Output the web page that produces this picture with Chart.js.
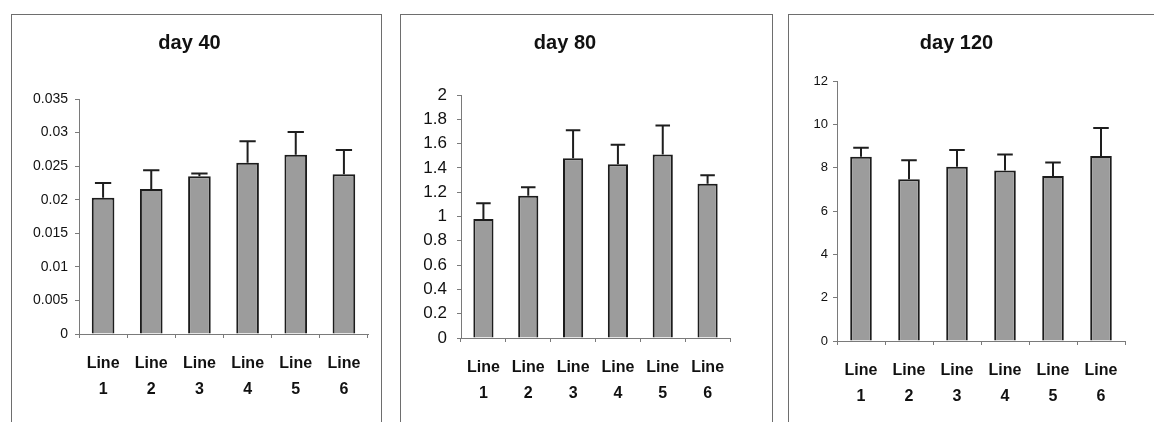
<!DOCTYPE html>
<html>
<head>
<meta charset="utf-8">
<title>Bar charts by line, days 40 / 80 / 120</title>
<script src="https://cdn.jsdelivr.net/npm/chart.js@4/dist/chart.umd.min.js"></script>
<style>
  html, body { margin: 0; padding: 0; background: #fff; overflow: hidden; }
  body { width: 1154px; height: 422px; position: relative; }
  .panel { position: absolute; top: 14px; height: 408px; }
  .panel canvas { position: absolute; left: 0; top: 0; }
  .frame { position: absolute; left: 0; top: 0; right: 0; bottom: -4px;
           border: 1.5px solid #6e6e6e; border-bottom: none; pointer-events: none; }
</style>
</head>
<body>
<div class="panel" id="p40" style="left:11px;width:371px"><canvas id="c40" width="371" height="408"></canvas><div class="frame"></div></div>
<div class="panel" id="p80" style="left:400px;width:373px"><canvas id="c80" width="373" height="408"></canvas><div class="frame"></div></div>
<div class="panel" id="p120" style="left:788px;width:370px"><canvas id="c120" width="370" height="408"></canvas><div class="frame"></div></div>
<script>
// categories shared by all three plots
const lines = [['Line', '1'], ['Line', '2'], ['Line', '3'], ['Line', '4'], ['Line', '5'], ['Line', '6']];

// day 40
const day40Means = [0.0203, 0.0216, 0.0235, 0.0255, 0.0267, 0.0238];
const day40Errors = [0.0022, 0.0028, 0.0004, 0.0032, 0.0034, 0.0036];
const day40Ticks = [0, 0.005, 0.01, 0.015, 0.02, 0.025, 0.03, 0.035];

// day 80
const day80Means = [0.98, 1.17, 1.48, 1.43, 1.51, 1.27];
const day80Errors = [0.13, 0.07, 0.23, 0.16, 0.24, 0.07];
const day80Ticks = [0, 0.2, 0.4, 0.6, 0.8, 1, 1.2, 1.4, 1.6, 1.8, 2];

// day 120
const day120Means = [8.5, 7.46, 8.04, 7.87, 7.61, 8.54];
const day120Errors = [0.42, 0.88, 0.77, 0.74, 0.63, 1.29];
const day120Ticks = [0, 2, 4, 6, 8, 10, 12];

const FONT = '"Liberation Sans", Arial, Helvetica, sans-serif';

// upper error bars with a cap, drawn on top of each bar
const errorBars = {
  id: 'errorBars',
  afterDatasetsDraw(chart) {
    const errs = chart.options.plugins.errorBars.values;
    const meta = chart.getDatasetMeta(0);
    const y = chart.scales.y;
    const ctx = chart.ctx;
    ctx.save();
    ctx.strokeStyle = '#1e1e1e';
    ctx.lineWidth = 2;
    meta.data.forEach((bar, i) => {
      const v = chart.data.datasets[0].data[i];
      const top = y.getPixelForValue(v + errs[i]);
      const half = bar.width * 0.36;
      ctx.beginPath();
      ctx.moveTo(bar.x, bar.y);
      ctx.lineTo(bar.x, top);
      ctx.moveTo(bar.x - half, top);
      ctx.lineTo(bar.x + half, top);
      ctx.stroke();
    });
    ctx.restore();
  }
};

function makeChart(id, title, means, errors, ticks, box) {
  const H = 408;
  const W = document.getElementById(id).width;
  const titleSize = 20;
  return new Chart(document.getElementById(id), {
    type: 'bar',
    data: {
      labels: lines,
      datasets: [{
        data: means,
        backgroundColor: '#9c9c9c',
        borderColor: '#1c1c1c',
        borderWidth: 2,
        borderSkipped: 'bottom',
        barPercentage: box.barPct,
        categoryPercentage: 1
      }]
    },
    options: {
      responsive: false,
      animation: false,
      layout: { padding: { left: 0, right: W - box.right, top: 0, bottom: 0 } },
      plugins: {
        legend: { display: false },
        tooltip: { enabled: false },
        title: {
          display: true,
          text: title,
          color: '#111',
          font: { family: FONT, size: titleSize, weight: 'bold', lineHeight: 1.2 },
          padding: { top: 17, bottom: box.top - 17 - titleSize * 1.2 }
        },
        errorBars: { values: errors }
      },
      scales: {
        x: {
          grid: { display: true, drawOnChartArea: false, tickLength: 4, color: '#7a7a7a', offset: true },
          border: { display: true, color: '#7a7a7a', width: 1 },
          ticks: {
            color: '#111',
            font: { family: FONT, size: 16, weight: 'bold', lineHeight: 1.6 },
            padding: 13,
            maxRotation: 0,
            autoSkip: false
          },
          afterFit(scale) { scale.height = H - box.bottom; }
        },
        y: {
          min: ticks[0],
          max: ticks[ticks.length - 1],
          grid: { display: true, drawOnChartArea: false, tickLength: 4, color: '#7a7a7a' },
          border: { display: true, color: '#7a7a7a', width: 1 },
          afterBuildTicks(scale) { scale.ticks = ticks.map(v => ({ value: v })); },
          ticks: {
            color: '#111',
            font: { family: FONT, size: box.yFont },
            padding: box.yPad,
            callback: v => String(v)
          },
          afterFit(scale) { scale.width = box.left; }
        }
      }
    },
    plugins: [errorBars]
  });
}

makeChart('c40', 'day 40', day40Means, day40Errors, day40Ticks,
  { left: 68, right: 357, top: 85, bottom: 320, yFont: 14, yPad: 7, barPct: 0.47 });
makeChart('c80', 'day 80', day80Means, day80Errors, day80Ticks,
  { left: 61, right: 330, top: 81, bottom: 324, yFont: 17, yPad: 10, barPct: 0.45 });
makeChart('c120', 'day 120', day120Means, day120Errors, day120Ticks,
  { left: 49, right: 337, top: 67, bottom: 327, yFont: 13, yPad: 5, barPct: 0.45 });
</script>
</body>
</html>
